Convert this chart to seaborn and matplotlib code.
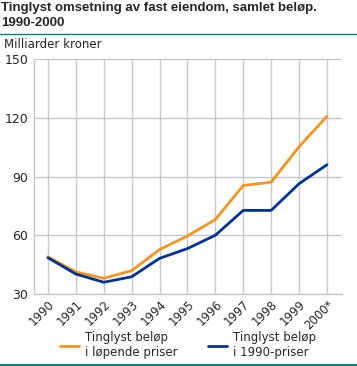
import matplotlib

matplotlib.use("Agg")

import matplotlib.pyplot as plt
import matplotlib.lines as mlines
import pandas as pd
import seaborn as sns

# ── Data ──────────────────────────────────────────────────────────────────

YEARS = ["1990", "1991", "1992", "1993", "1994", "1995",
         "1996", "1997", "1998", "1999", "2000*"]
LOPENDE = [49.0, 41.3, 38.0, 41.9, 52.7, 59.6, 68.0, 85.4, 87.1, 105.2, 120.7]
FAST_1990 = [48.5, 40.2, 36.0, 38.8, 48.2, 53.2, 60.0, 72.7, 72.7, 86.3, 96.0]

SERIES = ["Tinglyst beløp\ni løpende priser", "Tinglyst beløp\ni 1990-priser"]
COLORS = ["#F7941D", "#003399"]

df = pd.concat(
    [
        pd.DataFrame({"x": range(len(YEARS)), "value": LOPENDE, "series": SERIES[0]}),
        pd.DataFrame({"x": range(len(YEARS)), "value": FAST_1990, "series": SERIES[1]}),
    ]
)

# ── Plot ──────────────────────────────────────────────────────────────────

sns.set_style("white")
plt.rcParams["font.family"] = ["DejaVu Sans"]

fig = plt.figure(figsize=(3.57, 3.66), dpi=100)
ax = fig.add_axes([34 / 357, 1 - 294 / 366, (342 - 34) / 357, (294 - 59) / 366])

sns.lineplot(
    data=df, x="x", y="value", hue="series", palette=COLORS,
    linewidth=2, legend=False, ax=ax,
)

ax.set_xlim(-0.5, len(YEARS) - 0.46)
ax.set_ylim(30, 150)
ax.set_yticks([30, 60, 90, 120, 150])
ax.set_xticks(range(len(YEARS)))
ax.set_xticklabels(YEARS, rotation=45, ha="right", rotation_mode="anchor", fontsize=8.5)
ax.tick_params(axis="y", labelsize=9, length=0, pad=4)
ax.tick_params(axis="x", length=0, pad=3)
ax.grid(True, color="#c8c8c8", linewidth=1)
ax.set_axisbelow(True)
ax.set_xlabel("")
ax.set_ylabel("")
for side in ["top", "right"]:
    ax.spines[side].set_visible(False)
for side in ["left", "bottom"]:
    ax.spines[side].set_color("#c8c8c8")
    ax.spines[side].set_linewidth(1)

# Title, unit label and rules
fig.text(0.004, 1 - 2 / 366, "Tinglyst omsetning av fast eiendom, samlet beløp.\n1990-2000",
         fontsize=9.5, fontweight="bold", va="top", ha="left", linespacing=1.3,
         family=["Liberation Sans Narrow", "Liberation Sans"])
fig.add_artist(mlines.Line2D([0, 1], [1 - 33.5 / 366] * 2, color="#008080", linewidth=1))
fig.add_artist(mlines.Line2D([0, 1], [1 - 365 / 366] * 2, color="#008080", linewidth=1.5))
fig.text(4 / 357, 1 - 45 / 366, "Milliarder kroner", fontsize=8.5, va="center", ha="left")

# Legend
handles = [mlines.Line2D([], [], color=c, linewidth=2) for c in COLORS]
fig.legend(
    handles, SERIES, loc="lower left", bbox_to_anchor=(60 / 357, 1 - 359 / 366),
    ncol=2, frameon=False, fontsize=8.5, handlelength=1.6, handletextpad=0.5,
    columnspacing=2.6, borderaxespad=0, borderpad=0,
)

fig.savefig("out.png", dpi=100)
